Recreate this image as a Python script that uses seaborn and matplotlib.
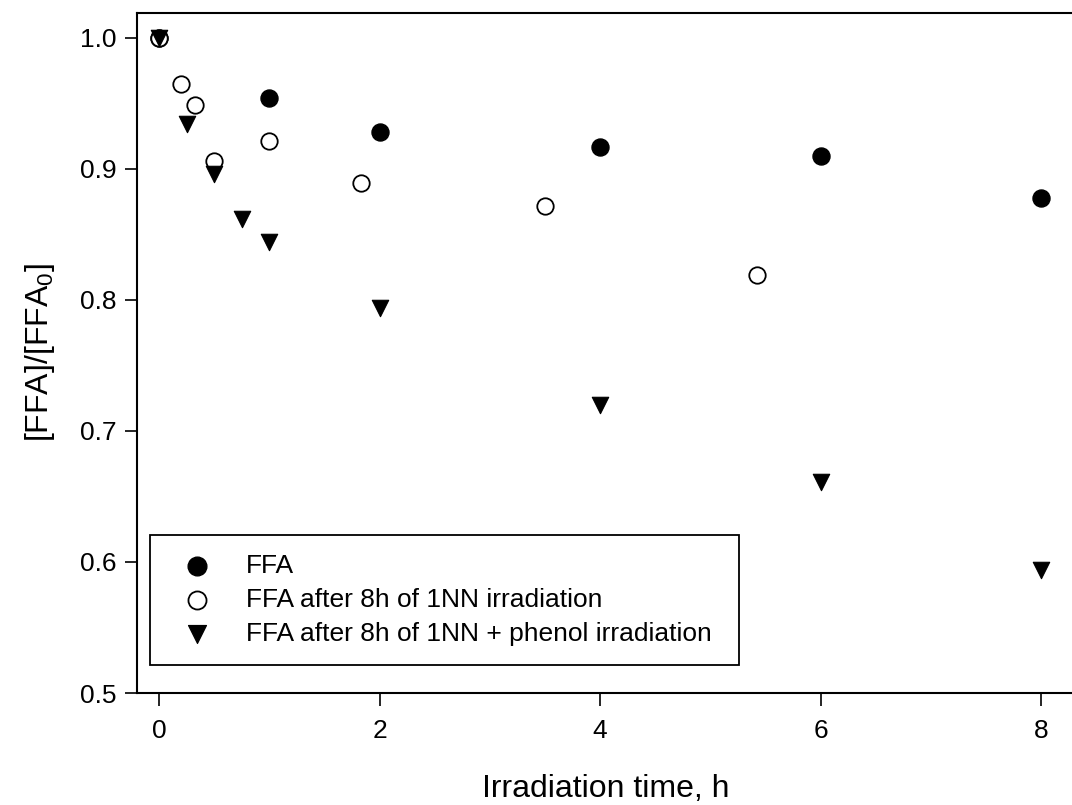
import matplotlib
matplotlib.use("Agg")
import matplotlib.pyplot as plt
import seaborn as sns
import pandas as pd

# FFA decay series
ffa_time = [0, 1, 2, 4, 6, 8]
ffa_ratio = [1.000, 0.954, 0.928, 0.917, 0.910, 0.878]

nn_time = [0, 0.2, 0.33, 0.5, 1.0, 1.83, 3.5, 5.42]
nn_ratio = [1.000, 0.965, 0.949, 0.906, 0.921, 0.889, 0.872, 0.819]

phenol_time = [0, 0.25, 0.5, 0.75, 1, 2, 4, 6, 8]
phenol_ratio = [1.000, 0.934, 0.896, 0.862, 0.844, 0.794, 0.720, 0.661, 0.594]

labels = ["FFA",
          "FFA after 8h of 1NN irradiation",
          "FFA after 8h of 1NN + phenol irradiation"]

sns.set_theme(style="white")
plt.rcParams["font.family"] = ["Liberation Sans", "DejaVu Sans"]
plt.rcParams["mathtext.fontset"] = "custom"
plt.rcParams["mathtext.rm"] = "Liberation Sans"
plt.rcParams["mathtext.it"] = "Liberation Sans"
plt.rcParams["text.color"] = "black"

fig = plt.figure(figsize=(10.72, 8.05), dpi=100)
ax = fig.add_axes([137 / 1072, 1 - 693 / 805, 1 - 137 / 1072 + 0.002, (693 - 13) / 805])

df1 = pd.DataFrame({"t": ffa_time, "r": ffa_ratio})
df2 = pd.DataFrame({"t": nn_time, "r": nn_ratio})
df3 = pd.DataFrame({"t": phenol_time, "r": phenol_ratio})

sns.scatterplot(data=df1, x="t", y="r", ax=ax, marker="o", s=150,
                color="black", edgecolor="black", linewidth=1.0,
                label=labels[0], zorder=3)
sns.scatterplot(data=df2, x="t", y="r", ax=ax, marker="o", s=140,
                facecolor="white", edgecolor="black", linewidth=1.3,
                label=labels[1], zorder=4)
sns.scatterplot(data=df3, x="t", y="r", ax=ax, marker="v", s=140,
                color="black", edgecolor="black", linewidth=0.8,
                label=labels[2], zorder=5)

ax.set_xlim(-0.2, 8.3)
ax.set_ylim(0.5, 1.019)
ax.set_xticks([0, 2, 4, 6, 8])
ax.set_yticks([0.5, 0.6, 0.7, 0.8, 0.9, 1.0])
ax.set_yticklabels(["0.5", "0.6", "0.7", "0.8", "0.9", "1.0"])

for side in ["left", "bottom", "top"]:
    ax.spines[side].set_color("black")
    ax.spines[side].set_linewidth(1.5)
ax.spines["right"].set_visible(False)

ax.tick_params(axis="both", which="major", bottom=True, left=True,
               top=False, right=False, direction="out", length=9, width=1.2,
               colors="black", labelsize=19, pad=6)
ax.tick_params(axis="x", pad=10)

ax.set_xlabel("Irradiation time, h", fontsize=23, labelpad=22, color="black")
ax.set_ylabel("[FFA]/[FFA$_0$]", fontsize=23, labelpad=16, color="black")

leg = ax.legend(loc="lower left", bbox_to_anchor=(0.0139, 0.041, 0.628, 0.2),
                mode="expand", borderaxespad=0, fontsize=19, frameon=True,
                fancybox=False, handletextpad=0.75, labelspacing=0.38,
                borderpad=0.72, handlelength=2.15, markerscale=1.1)
frame = leg.get_frame()
frame.set_edgecolor("black")
frame.set_linewidth(1.3)
frame.set_facecolor("white")
frame.set_alpha(1)
for t in leg.get_texts():
    t.set_color("black")

fig.savefig("out.png", dpi=100)
